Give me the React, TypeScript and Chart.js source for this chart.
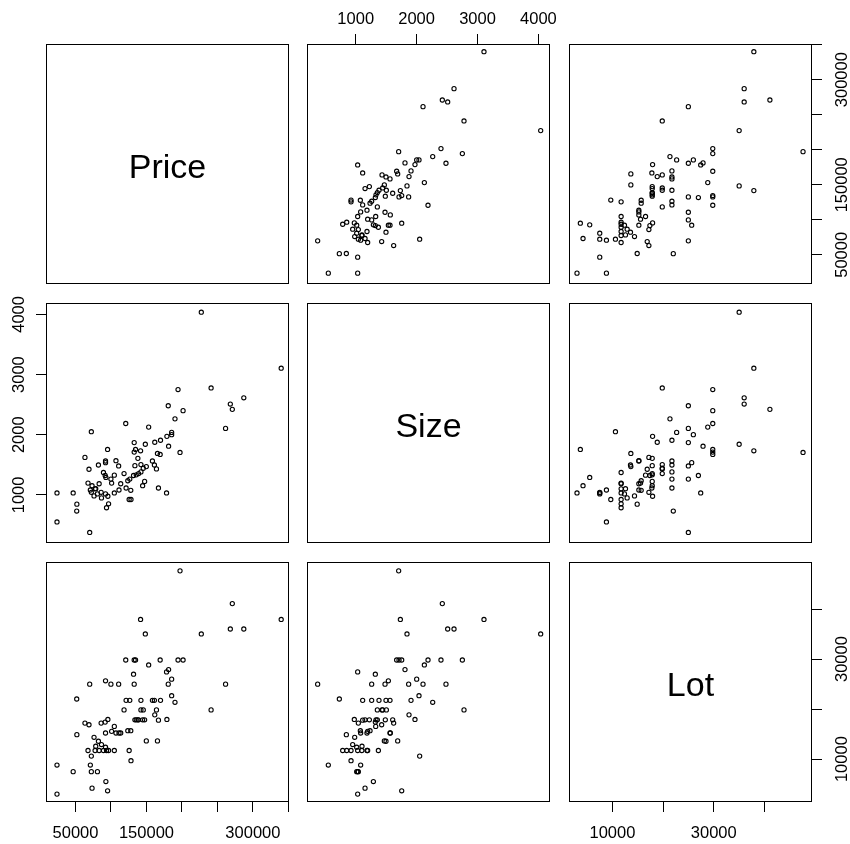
import React, { useEffect, useRef } from "react";
import { Chart, registerables } from "chart.js";

Chart.register(...registerables);

const FONT = "'Liberation Sans', Arial, Helvetica, sans-serif";
const TICK_SIZE = 16.5;
const LABEL_SIZE = 34;

// ---- data ----
const price = [
  339900, 287200, 271000, 268200, 261500, 241100, 227300, 201600, 197300, 194500,
  190200, 185500, 185500, 181200, 180700, 178800, 178300, 169800, 169300, 166900,
  165500, 164100, 161700, 161200, 158400, 153100, 149800, 148400, 147400, 145500,
  144600, 142200, 142200, 141700, 138900, 137900, 135600, 134600, 133700, 132700,
  131800, 132700, 128200, 127900, 125600, 126500, 123700, 120800, 121300, 118400,
  113700, 111300, 110800, 107000, 104700, 104700, 100900, 99900, 95200, 96600,
  95600, 92800, 93700, 92300, 92300, 91800, 92300, 89400, 86600, 86100,
  83300, 82300, 80900, 78500, 73300, 76100, 72300, 72300, 70000, 70900,
  69000, 67600, 63300, 51900, 51700, 46700, 23900, 23900, 77600,
];
const size = [
  3106, 2614, 2422, 2510, 2105, 2778, 4037, 2400, 1705, 2751,
  2264, 2001, 2039, 1809, 2482, 1973, 1032, 1908, 1672, 1114,
  1689, 1432, 1875, 1497, 1563, 2127, 1470, 1842, 1224, 1443,
  1153, 1503, 1382, 1733, 1355, 1607, 1333, 1755, 1486, 1869,
  1322, 1711, 923, 1076, 923, 1262, 1235, 2187, 1114, 1355,
  1185, 1081, 1481, 1568, 1032, 1328, 1196, 1262, 1755, 852,
  977, 1290, 786, 1536, 1016, 1322, 1563, 1372, 950, 1043,
  1185, 1497, 1016, 1103, 1153, 983, 2050, 1043, 375, 1081,
  1426, 1196, 1623, 846, 731, 1032, 550, 1032, 1100,
];
const lot = [
  37920, 36010, 41090, 36010, 24990, 19840, 35020, 29810, 47630, 29810,
  21360, 25980, 22680, 27890, 24990, 17930, 27430, 21750, 29810, 17790,
  13640, 19840, 18850, 21750, 21750, 28820, 13640, 35020, 17860, 19840,
  17860, 19840, 21750, 37920, 17860, 17860, 17860, 29810, 17860, 24990,
  26970, 29810, 9680, 15680, 11720, 21750, 15680, 29810, 21750, 19840,
  15220, 15220, 24990, 15220, 11720, 16540, 15550, 24990, 3670, 11720,
  17930, 5520, 11720, 25650, 12380, 17400, 15220, 11720, 12910, 17200,
  11720, 13570, 7500, 12580, 4200, 14360, 10600, 7500, 24990, 8820,
  16870, 11720, 17200, 14890, 22020, 7500, 8820, 3010, 11720,
];

const varNames = ["Price", "Size", "Lot"];
const priceTicks = [50000, 100000, 150000, 200000, 250000, 300000, 350000];
const priceTickLabels = [50000, 150000, 300000];
const sizeTicks = [1000, 2000, 3000, 4000];
const sizeTickLabels = [1000, 2000, 3000, 4000];
const lotTicks = [10000, 20000, 30000, 40000];
const lotTickLabels = [10000, 30000];
const priceRange = [8400, 350900];
const sizeRange = [200, 4190];
const lotRange = [1430, 49400];

const VARS = [
  { name: varNames[0], values: price, ticks: priceTicks, labels: priceTickLabels, range: priceRange },
  { name: varNames[1], values: size, ticks: sizeTicks, labels: sizeTickLabels, range: sizeRange },
  { name: varNames[2], values: lot, ticks: lotTicks, labels: lotTickLabels, range: lotRange },
];

// panel boxes (page pixels)
const COLS = [[46, 289], [307, 550], [569, 812]];
const ROWS = [[44, 284], [303, 543], [562, 802]];

function measureWidest(labels: number[]): number {
  const c = document.createElement("canvas");
  const ctx = c.getContext("2d")!;
  ctx.font = `normal ${TICK_SIZE}px ${FONT}`;
  let w = 0;
  labels.forEach((l) => {
    w = Math.max(w, ctx.measureText(String(l)).width);
  });
  return w;
}

const boxPlugin = {
  id: "panelBox",
  afterDraw(chart: any) {
    const { ctx, chartArea } = chart;
    const { left, top, right, bottom } = chartArea;
    ctx.save();
    ctx.strokeStyle = "#000";
    ctx.lineWidth = 1;
    ctx.strokeRect(Math.round(left) + 0.5, Math.round(top) + 0.5, Math.round(right - left) - 1, Math.round(bottom - top) - 1);
    ctx.restore();
  },
};

function makeDiagPlugin(name: string) {
  return {
    id: "diagLabel",
    afterDraw(chart: any) {
      const { ctx, chartArea } = chart;
      const { left, top, right, bottom } = chartArea;
      ctx.save();
      ctx.fillStyle = "#000";
      ctx.font = `normal ${LABEL_SIZE}px ${FONT}`;
      ctx.textAlign = "center";
      ctx.textBaseline = "alphabetic";
      ctx.fillText(name, (left + right) / 2, (top + bottom) / 2 + 14);
      ctx.restore();
    },
  };
}

function axisOptions(v: any, axis: "x" | "y", position: string | null) {
  const base: any = {
    type: "linear",
    min: v.range[0],
    max: v.range[1],
    display: position !== null,
    afterBuildTicks: (scale: any) => {
      scale.ticks = v.ticks.map((t: number) => ({ value: t }));
    },
    grid: { drawOnChartArea: false, drawTicks: true, tickLength: 10, color: "#000", lineWidth: 1 },
    border: { display: false },
  };
  if (position === null) {
    base.position = axis === "x" ? "bottom" : "left";
    return base;
  }
  base.position = position;
  const callback = (value: number) => (v.labels.includes(value) ? String(value) : "");
  const font = { family: FONT, size: TICK_SIZE, lineHeight: 1 };
  if (axis === "x") {
    const pad = position === "top" ? 6.5 : 13.2;
    base.afterFit = (s: any) => {
      s.height = position === "top" ? 44 : 42;
    };
    base.ticks = { autoSkip: false, maxRotation: 0, minRotation: 0, padding: pad, font, color: "#000", callback };
  } else {
    const widest = measureWidest(v.labels);
    const pad = position === "left" ? 16.8 - widest / 2 : 20.7 - widest / 2;
    base.afterFit = (s: any) => {
      s.width = position === "left" ? 46 : 38;
    };
    base.ticks = {
      autoSkip: false,
      minRotation: 90,
      maxRotation: 90,
      crossAlign: "center",
      padding: pad,
      font,
      color: "#000",
      callback,
    };
  }
  return base;
}

function Panel({ r, c }: { r: number; c: number }) {
  const ref = useRef<HTMLCanvasElement>(null);
  const hasTop = r === 0 && c === 1;
  const hasBottom = r === 2 && c !== 1;
  const hasLeft = c === 0 && r === 1;
  const hasRight = c === 2 && r !== 1;
  const M = 16;
  const ml = hasLeft ? 46 : M;
  const mr = hasRight ? 38 : M;
  const mt = hasTop ? 44 : M;
  const mb = hasBottom ? 42 : M;
  const [x0, x1] = COLS[c];
  const [y0, y1] = ROWS[r];
  const left = x0 - ml;
  const top = y0 - mt;
  const width = x1 - x0 + ml + mr;
  const height = y1 - y0 + mt + mb;

  useEffect(() => {
    if (!ref.current) return;
    const xv = VARS[c];
    const yv = VARS[r];
    const diag = r === c;
    const datasets = diag
      ? []
      : [
          {
            data: xv.values.map((val: number, i: number) => ({ x: val, y: yv.values[i] })),
            pointRadius: 2.1,
            pointBorderWidth: 1.1,
            pointBorderColor: "#000",
            pointBackgroundColor: "rgba(0,0,0,0)",
            pointHoverRadius: 2.1,
            showLine: false,
          },
        ];
    const plugins: any[] = [boxPlugin];
    if (diag) plugins.push(makeDiagPlugin(xv.name));
    const chart = new Chart(ref.current, {
      type: "scatter",
      data: { datasets } as any,
      options: {
        animation: false,
        responsive: false,
        devicePixelRatio: 1,
        events: [],
        layout: {
          autoPadding: false,
          padding: {
            left: hasLeft ? 0 : M,
            right: hasRight ? 0 : M,
            top: hasTop ? 0 : M,
            bottom: hasBottom ? 0 : M,
          },
        },
        plugins: { legend: { display: false }, tooltip: { enabled: false } },
        scales: {
          x: axisOptions(xv, "x", hasTop ? "top" : hasBottom ? "bottom" : null),
          y: axisOptions(yv, "y", hasLeft ? "left" : hasRight ? "right" : null),
        },
      } as any,
      plugins,
    });
    return () => chart.destroy();
  }, [r, c]);

  return (
    <canvas
      ref={ref}
      width={width}
      height={height}
      style={{ position: "absolute", left, top, width, height }}
    />
  );
}

export default function App() {
  const panels: JSX.Element[] = [];
  for (let r = 0; r < 3; r++) {
    for (let c = 0; c < 3; c++) {
      panels.push(<Panel key={`${r}-${c}`} r={r} c={c} />);
    }
  }
  return (
    <div style={{ position: "absolute", left: 0, top: 0, width: 850, height: 844, background: "#fff" }}>
      {panels}
    </div>
  );
}
